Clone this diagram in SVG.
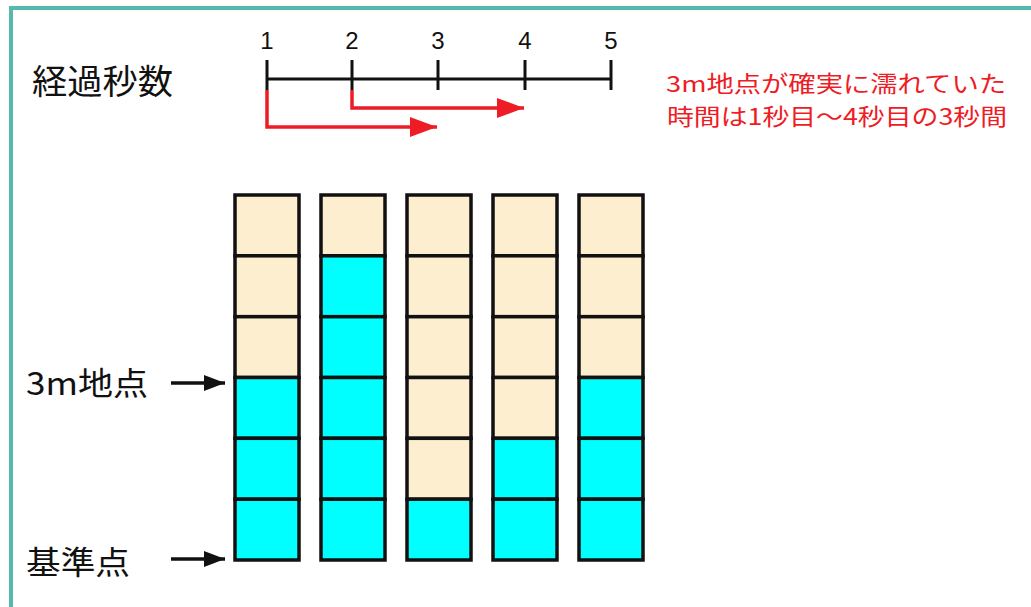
<svg xmlns="http://www.w3.org/2000/svg" width="1031" height="607" viewBox="0 0 1031 607">
<style>
.jp{font-family:"Noto Sans CJK JP","Noto Sans",sans-serif;fill:#111}
.red{font-family:"Noto Sans CJK JP","Noto Sans",sans-serif;fill:#ee1c25;font-size:22.5px}
.num{font-family:"Liberation Sans",Arial,sans-serif;font-size:24px;fill:#111;text-anchor:middle}
.b{fill:#fdeecf;stroke:#111;stroke-width:3.5}
.c{fill:#00ffff;stroke:#111;stroke-width:3.5}
.axis{stroke:#111;stroke-width:3;fill:none}
.ra{stroke:#ee1c25;stroke-width:3.5;fill:none}
.ba{stroke:#111;stroke-width:3.5;fill:none}
</style>
<defs>
<marker id="rh" markerUnits="userSpaceOnUse" markerWidth="28" markerHeight="22" refX="27" refY="10" orient="auto"><path d="M0,0 L27,10 L0,20 Z" fill="#ee1c25"/></marker>
<marker id="bh" markerUnits="userSpaceOnUse" markerWidth="22" markerHeight="18" refX="21" refY="8" orient="auto"><path d="M0,0 L21,8 L0,16 Z" fill="#111"/></marker>
</defs>
<rect width="1031" height="607" fill="#fff"/>
<path d="M11,607 L11,8 L1031,8" fill="none" stroke="#55b9ae" stroke-width="4"/>

<g id="title"><text class="jp" x="32" y="94" font-size="34" textLength="141" lengthAdjust="spacingAndGlyphs">経過秒数</text></g>

<g id="timeline">
<line class="axis" x1="267" y1="79" x2="611" y2="79"/>
<line class="axis" x1="267" y1="60" x2="267" y2="90"/>
<line class="axis" x1="352" y1="60" x2="352" y2="90"/>
<line class="axis" x1="438" y1="60" x2="438" y2="90"/>
<line class="axis" x1="525" y1="60" x2="525" y2="90"/>
<line class="axis" x1="611" y1="60" x2="611" y2="90"/>
<text class="num" x="267" y="49">1</text>
<text class="num" x="352" y="49">2</text>
<text class="num" x="438" y="49">3</text>
<text class="num" x="525" y="49">4</text>
<text class="num" x="611" y="49">5</text>
</g>

<g id="connectors">
<path class="ra" d="M267,90 L267,127 L437,127" marker-end="url(#rh)"/>
<path class="ra" d="M352,90 L352,108 L524,108" marker-end="url(#rh)"/>
<line class="ba" x1="171" y1="383" x2="225" y2="383" marker-end="url(#bh)"/>
<line class="ba" x1="171" y1="559" x2="225" y2="559" marker-end="url(#bh)"/>
</g>

<g id="note">
<text class="red"><tspan x="666" y="92" textLength="340" lengthAdjust="spacingAndGlyphs">3m地点が確実に濡れていた</tspan><tspan x="667" y="125" textLength="340" lengthAdjust="spacingAndGlyphs">時間は1秒目〜4秒目の3秒間</tspan></text>
</g>

<g id="label-3m"><text class="jp" x="26" y="395" font-size="32" textLength="122" lengthAdjust="spacingAndGlyphs">3m地点</text></g>
<g id="label-base"><text class="jp" x="26" y="574" font-size="32" textLength="104" lengthAdjust="spacingAndGlyphs">基準点</text></g>

<g id="col1">
<rect class="b" x="235" y="195" width="64" height="60.8"/>
<rect class="b" x="235" y="255.8" width="64" height="60.9"/>
<rect class="b" x="235" y="316.7" width="64" height="60.8"/>
<rect class="c" x="235" y="377.5" width="64" height="60.8"/>
<rect class="c" x="235" y="438.3" width="64" height="60.9"/>
<rect class="c" x="235" y="499.2" width="64" height="60.8"/>
</g>
<g id="col2">
<rect class="b" x="321" y="195" width="64" height="60.8"/>
<rect class="c" x="321" y="255.8" width="64" height="60.9"/>
<rect class="c" x="321" y="316.7" width="64" height="60.8"/>
<rect class="c" x="321" y="377.5" width="64" height="60.8"/>
<rect class="c" x="321" y="438.3" width="64" height="60.9"/>
<rect class="c" x="321" y="499.2" width="64" height="60.8"/>
</g>
<g id="col3">
<rect class="b" x="407" y="195" width="64" height="60.8"/>
<rect class="b" x="407" y="255.8" width="64" height="60.9"/>
<rect class="b" x="407" y="316.7" width="64" height="60.8"/>
<rect class="b" x="407" y="377.5" width="64" height="60.8"/>
<rect class="b" x="407" y="438.3" width="64" height="60.9"/>
<rect class="c" x="407" y="499.2" width="64" height="60.8"/>
</g>
<g id="col4">
<rect class="b" x="493" y="195" width="64" height="60.8"/>
<rect class="b" x="493" y="255.8" width="64" height="60.9"/>
<rect class="b" x="493" y="316.7" width="64" height="60.8"/>
<rect class="b" x="493" y="377.5" width="64" height="60.8"/>
<rect class="c" x="493" y="438.3" width="64" height="60.9"/>
<rect class="c" x="493" y="499.2" width="64" height="60.8"/>
</g>
<g id="col5">
<rect class="b" x="579" y="195" width="64" height="60.8"/>
<rect class="b" x="579" y="255.8" width="64" height="60.9"/>
<rect class="b" x="579" y="316.7" width="64" height="60.8"/>
<rect class="c" x="579" y="377.5" width="64" height="60.8"/>
<rect class="c" x="579" y="438.3" width="64" height="60.9"/>
<rect class="c" x="579" y="499.2" width="64" height="60.8"/>
</g>
</svg>
